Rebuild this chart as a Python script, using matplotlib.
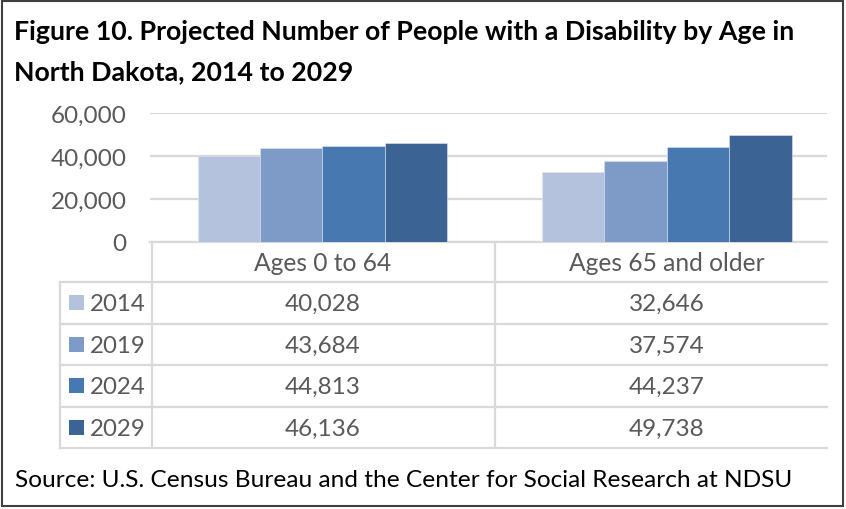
import matplotlib
matplotlib.use("Agg")
import matplotlib.pyplot as plt
from matplotlib.patches import Rectangle
from matplotlib.lines import Line2D

plt.rcParams['font.family'] = ['Lato', 'DejaVu Sans']

# data
categories = ["Ages 0 to 64", "Ages 65 and older"]
years = ["2014", "2019", "2024", "2029"]
values = {
    "2014": [40028, 32646],
    "2019": [43684, 37574],
    "2024": [44813, 44237],
    "2029": [46136, 49738],
}
colors = ["#b4c2dd", "#7e9bc8", "#4778b0", "#3b6394"]
yticks = [0, 20000, 40000, 60000]

W, H = 846, 510
GRID = "#d9d9d9"
TXT = "#595959"

fig = plt.figure(figsize=(W / 100, H / 100), dpi=100)

# pixel helpers for layout
def fx(px):
    return px / W

def fy(py):
    return 1 - py / H

# chart area (pixel positions from reference)
plot_l, plot_r, plot_b, plot_t = 150, 827, 243, 114
ax = fig.add_axes([fx(plot_l), fy(plot_b), fx(plot_r - plot_l), fy(plot_t) - fy(plot_b)])
ax.set_xlim(-0.5, 1.465)
ax.set_ylim(0, 60000)

bw = 0.181
for i, yr in enumerate(years):
    xs = [c + (i - 1.5) * bw for c in range(len(categories))]
    ax.bar(xs, values[yr], width=bw, color=colors[i], edgecolor="#dfe6f0",
           linewidth=0.4, zorder=3)

ax.set_yticks(yticks)
ax.set_yticklabels(["{:,}".format(v) for v in yticks], fontsize=17.5, color=TXT)
ax.tick_params(axis="y", length=0, pad=17)
ax.set_xticks([])
ax.yaxis.grid(True, color=GRID, linewidth=1.6, zorder=0)
for s in ["left", "right", "top"]:
    ax.spines[s].set_visible(False)
ax.spines["bottom"].set_color(GRID)
ax.spines["bottom"].set_linewidth(1.6)
ax.set_facecolor("none")

# overlay axes in pixel coordinates for table, title, frame
ov = fig.add_axes([0, 0, 1, 1])
ov.set_xlim(0, W)
ov.set_ylim(H, 0)
ov.axis("off")
ov.set_facecolor("none")

# title
ov.text(14, 40, "Figure 10. Projected Number of People with a Disability by Age in",
        fontsize=19.3, fontweight="bold", color="black", va="baseline", ha="left")
ov.text(14, 80, "North Dakota, 2014 to 2029",
        fontsize=19.3, fontweight="bold", color="black", va="baseline", ha="left")

# data table
tab_l, col_x, tab_r = 60, 152, 827
cat_w = 344.5
cat_c = [322.5, 322.5 + cat_w]
div_x = 322.5 + cat_w / 2
head_t, head_b = 243, 283
row_h = 41.5
rows_y = [head_b + k * row_h for k in range(len(years) + 1)]

lw = 1.6
ov.add_line(Line2D([col_x, col_x], [head_t, rows_y[-1]], color=GRID, lw=lw))
ov.add_line(Line2D([div_x, div_x], [head_t, rows_y[-1]], color=GRID, lw=lw))
ov.add_line(Line2D([tab_l, tab_l], [head_b, rows_y[-1]], color=GRID, lw=lw))
for y in rows_y:
    ov.add_line(Line2D([tab_l, tab_r], [y, y], color=GRID, lw=lw))

for c, name in zip(cat_c, categories):
    ov.text(c, (head_t + head_b) / 2 + 1, name, fontsize=17.7, color=TXT,
            ha="center", va="center")

for k, yr in enumerate(years):
    yc = (rows_y[k] + rows_y[k + 1]) / 2
    ov.add_patch(Rectangle((69, yc - 7.5), 15, 15, facecolor=colors[k], edgecolor="none"))
    ov.text(90, yc + 1, yr, fontsize=17.3, color=TXT, ha="left", va="center")
    for c, v in zip(cat_c, values[yr]):
        ov.text(c, yc + 1, "{:,}".format(v), fontsize=17.5, color=TXT,
                ha="center", va="center")

# source
ov.text(15, 481, "Source: U.S. Census Bureau and the Center for Social Research at NDSU",
        fontsize=17.6, color="black", ha="left", va="center")

# outer frame
ov.add_patch(Rectangle((1.5, 1.5), W - 4.5, H - 4.5, facecolor="none",
                       edgecolor="#404040", linewidth=1.5))

fig.savefig("out.png", dpi=100)
